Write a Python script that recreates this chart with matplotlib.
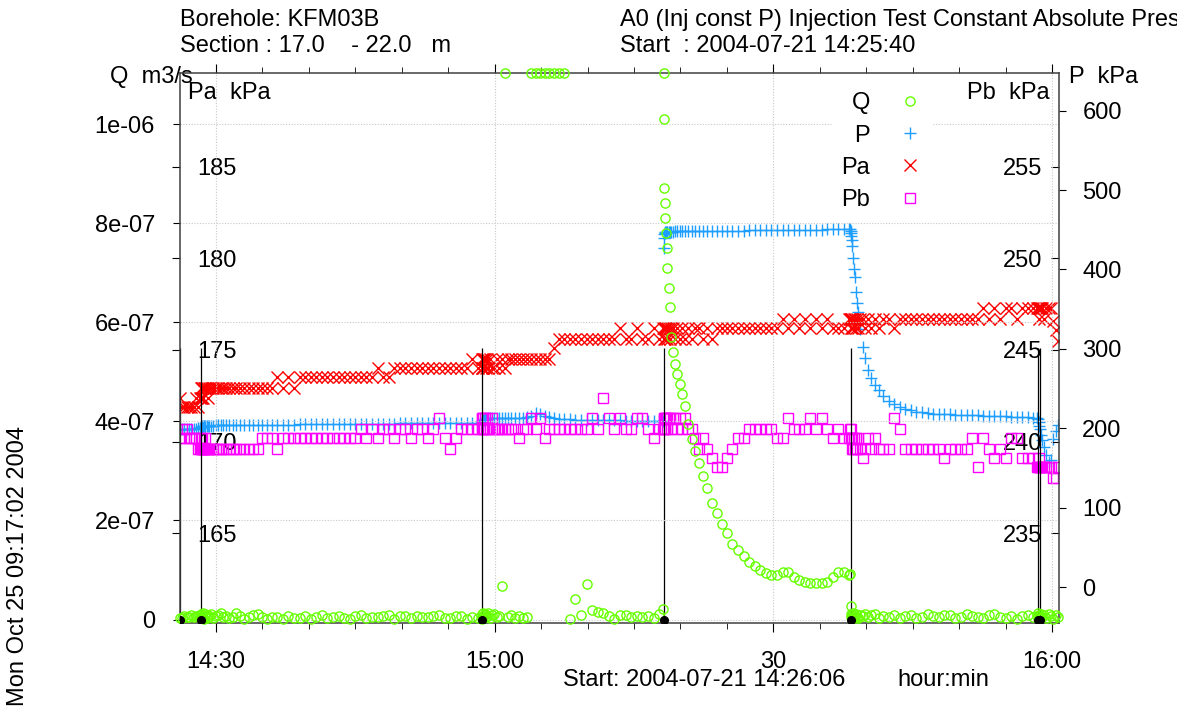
import matplotlib
matplotlib.use("Agg")
import matplotlib.pyplot as plt
from matplotlib.lines import Line2D
from matplotlib.ticker import FixedLocator, MultipleLocator
import numpy as np

plt.rcParams['font.family'] = ['Liberation Sans', 'DejaVu Sans']
plt.rcParams['font.size'] = 17

# time in minutes after 14:00 (2004-07-21)
t_min = [
    26.13, 26.35, 26.6, 26.85, 27.1, 27.35, 27.6, 27.85, 28.1, 28.3,
    28.40, 28.42, 28.45, 28.49, 28.54, 28.6, 28.68, 28.77, 28.87, 29.0,
    29.15, 29.3, 29.5, 29.7, 29.95, 30.2, 30.5, 30.8, 31.1, 31.45,
    31.8, 32.2, 32.6, 33.0, 33.5, 34.0, 34.5, 35.0, 35.5, 36.0,
    36.6, 37.2, 37.8, 38.4, 39.0, 39.6, 40.2, 40.8, 41.4, 42.0,
    42.6, 43.2, 43.8, 44.4, 45.0, 45.6, 46.2, 46.8, 47.4, 48.0,
    48.6, 49.2, 49.8, 50.4, 51.0, 51.6, 52.2, 52.8, 53.4, 54.0,
    54.6, 55.2, 55.8, 56.4, 57.0, 57.6, 58.2,
    58.64, 58.66, 58.69,
    58.73, 58.78, 58.85, 58.93, 59.03, 59.15, 59.3, 59.5, 59.7, 59.95,
    60.2, 60.5, 60.8, 61.1, 61.45, 61.8, 62.2, 62.6, 63.0, 63.45,
    63.9, 64.4, 64.9, 65.4, 65.9, 66.4, 66.9, 67.5, 68.1, 68.7,
    69.3, 69.9, 70.5, 71.1, 71.7, 72.3, 72.9, 73.5, 74.1, 74.7,
    75.3, 75.9, 76.5, 77.1, 77.7, 78.15,
    78.23, 78.25, 78.28, 78.32,
    78.37, 78.43, 78.5, 78.6, 78.72, 78.86, 79.02, 79.2, 79.4, 79.65,
    79.9, 80.2, 80.5, 80.85, 81.2, 81.6, 82.0, 82.45, 82.9, 83.4,
    83.9, 84.45, 85.0, 85.6, 86.2, 86.8, 87.4, 88.0, 88.6, 89.2,
    89.8, 90.4, 91.0, 91.6, 92.2, 92.8, 93.4, 94.0, 94.6, 95.2,
    95.8, 96.4, 97.0, 97.6, 98.1, 98.3,
    98.36, 98.38, 98.41, 98.45,
    98.5, 98.57, 98.65, 98.75, 98.87, 99.0, 99.15, 99.35, 99.6, 99.85,
    100.15, 100.5, 100.9, 101.35, 101.85, 102.4, 103.0, 103.6, 104.2, 104.8,
    105.4, 106.0, 106.6, 107.2, 107.8, 108.4, 109.0, 109.6, 110.2, 110.8,
    111.4, 112.0, 112.6, 113.2, 113.8, 114.4, 115.0, 115.6, 116.2, 116.8,
    117.4, 118.0, 118.4,
    118.5, 118.55, 118.62, 118.7, 118.8, 118.95, 119.15,
    119.4, 119.65, 119.9, 120.15, 120.4, 120.6,
]

# flow Q in units of 1e-8 m3/s (110.3 = top of the axis, off scale)
q_e8 = [
    0.4, 0.3, 0.8, 0.6, 0.5, 0.9, 0.5, 0.7, 0.8, 0.6,
    0.6, 1.2, 0.3, 1.0, 0.5, 1.4, 0.2, 0.8, 1.1, 0.4,
    0.9, 0.6, 1.2, 0.3, 0.7, 0.9, 1.3, 0.5, 0.8, 0.4,
    0.6, 1.3, 0.7, 0.2, 0.5, 1.0, 1.1, 0.6, 0.2, 0.5,
    0.6, 0.1, 0.8, 0.4, 0.3, 0.8, 0.2, 0.6, 0.9, 0.4,
    0.6, 0.8, 0.3, 0.2, 0.7, 0.9, 0.4, 0.6, 0.5, 0.8,
    0.9, 0.2, 0.7, 0.7, 0.3, 0.7, 0.6, 0.5, 0.8, 0.9,
    0.4, 0.3, 0.8, 0.7, 0.2, 0.5, 0.3,
    0.2, 1.1, 0.6,
    1.4, 0.3, 0.9, 1.2, 0.5, 0.8, 1.3, 0.4, 0.9, 1.1,
    0.6, 0.8, 6.7, 110.3, 0.6, 0.9, 0.4, 0.7, 0.3, 0.6,
    110.3, 110.3, 110.3, 110.3, 110.3, 110.3, 110.3, 110.3, 0.2, 4.2,
    1.0, 7.2, 1.9, 1.5, 1.3, 0.7, 0.1, 0.9, 0.9, 0.5,
    0.7, 0.5, 0.8, 0.4, 1.1, 2.1,
    110.3, 101.0, 87.0, 84.0,
    81.0, 78.0, 75.0, 71.0, 67.0, 63.0, 57.0, 54.0, 51.5, 49.5,
    47.5, 45.5, 43.0, 39.5, 36.5, 34.0, 31.5, 29.0, 26.5, 23.5,
    21.5, 19.2, 17.5, 15.2, 14.0, 12.8, 11.7, 10.8, 10.0, 9.4,
    8.9, 9.0, 9.5, 9.5, 8.5, 8.0, 7.6, 7.3, 7.3, 7.3,
    7.5, 8.5, 9.5, 9.5, 9.0, 9.1,
    2.7, 0.5, 1.1, 0.3,
    0.9, 1.3, 0.4, 0.8, 1.2, 0.6, 0.3, 1.0, 0.7, 1.2,
    0.5, 0.9, 1.1, 0.4, 0.8, 0.6, 1.0, 0.3, 0.7, 0.9,
    0.4, 0.6, 1.1, 0.8, 0.5, 0.9, 1.0, 0.4, 0.6, 1.2,
    0.8, 0.5, 0.3, 0.9, 1.1, 0.6, 0.4, 0.8, 0.2, 0.7,
    1.0, 0.5, 0.8,
    1.4, 0.5, 1.0, 0.3, 1.2, 0.6, 0.9,
    0.4, 1.1, 0.7, 0.2, 0.9, 0.5,
]

# absolute pressure P, kPa
p_kpa = [
    197.7, 198.5, 199.0, 198.7, 199.2, 199.0, 199.5, 199.3, 199.8, 200.0,
    201.0, 201.5, 201.8, 202.0, 202.2, 202.4, 202.5, 202.6, 202.8, 203.0,
    203.1, 203.2, 203.3, 203.4, 203.5, 203.5, 203.6, 203.7, 203.7, 203.8,
    203.8, 203.9, 204.0, 204.0, 204.1, 204.2, 204.2, 204.3, 204.4, 204.4,
    204.5, 204.6, 204.6, 204.7, 204.8, 204.8, 204.9, 205.0, 205.0, 205.1,
    205.2, 205.2, 205.3, 205.4, 205.4, 205.5, 205.6, 205.6, 205.7, 205.8,
    205.8, 205.9, 206.0, 206.0, 206.1, 206.2, 206.2, 206.3, 206.4, 206.4,
    206.5, 206.6, 206.6, 206.7, 206.8, 206.8, 206.9,
    207.0, 208.0, 208.8,
    209.5, 210.2, 210.8, 211.3, 211.7, 212.0, 212.3, 212.5, 212.6, 212.8,
    212.9, 213.0, 213.0, 213.1, 213.2, 213.2, 213.3, 213.4, 213.5, 213.6,
    216.0, 219.5, 218.0, 215.5, 214.0, 213.0, 212.0, 211.5, 211.0, 210.8,
    210.6, 210.4, 210.3, 210.2, 210.0, 209.9, 209.8, 209.8, 209.7, 209.6,
    209.6, 209.5, 209.5, 209.4, 209.4, 209.3,
    427.0, 440.0, 445.0, 446.5,
    447.0, 447.2, 447.3, 447.4, 447.5, 447.5, 447.6, 447.7, 447.8, 447.8,
    447.9, 448.0, 448.0, 448.1, 448.2, 448.3, 448.3, 448.4, 448.5, 448.6,
    448.6, 448.7, 448.8, 448.9, 449.0, 449.0, 449.1, 449.2, 449.3, 449.4,
    449.5, 449.5, 449.6, 449.7, 449.8, 449.9, 450.0, 450.1, 450.1, 450.2,
    450.3, 450.4, 450.5, 450.5, 450.6, 450.6,
    448.0, 446.0, 442.0, 437.0,
    430.0, 415.0, 400.0, 390.0, 372.0, 358.0, 346.0, 325.0, 302.0, 288.0,
    273.0, 263.0, 255.0, 248.0, 241.0, 234.5, 231.0, 227.0, 224.0, 222.5,
    221.0, 220.0, 219.5, 218.5, 218.0, 217.8, 217.5, 217.2, 217.0, 216.8,
    216.5, 216.3, 216.0, 215.8, 215.5, 215.2, 215.0, 214.6, 214.3, 214.0,
    213.6, 213.2, 213.0,
    212.0, 208.0, 203.0, 199.0, 192.0, 185.0, 176.0,
    166.0, 158.0, 160.0, 186.0, 197.0, 204.0,
]

# pressure above section Pa, kPa
pa_kpa = [
    172.4, 171.9, 171.9, 171.9, 171.9, 171.9, 171.9, 172.4, 171.9, 172.4,
    172.4, 172.9, 172.4, 172.9, 172.9, 172.4, 172.9, 172.9, 172.9, 172.9,
    172.4, 172.9, 172.9, 172.9, 172.9, 172.9, 172.9, 172.9, 172.9, 172.9,
    172.9, 172.9, 172.9, 172.9, 172.9, 172.9, 172.9, 172.9, 172.9, 172.9,
    173.5, 172.9, 173.5, 172.9, 173.5, 173.5, 173.5, 173.5, 173.5, 173.5,
    173.5, 173.5, 173.5, 173.5, 173.5, 173.5, 173.5, 173.5, 174.0, 173.5,
    173.5, 174.0, 174.0, 174.0, 174.0, 174.0, 174.0, 174.0, 174.0, 174.0,
    174.0, 174.0, 174.0, 174.0, 174.0, 174.5, 174.0,
    174.0, 174.5, 174.0,
    174.5, 174.0, 174.5, 174.5, 174.0, 174.5, 174.0, 174.5, 174.0, 174.0,
    174.5, 174.0, 174.5, 174.0, 174.5, 174.5, 174.5, 174.5, 174.5, 174.5,
    174.5, 174.5, 174.5, 174.5, 174.5, 175.1, 175.6, 175.6, 175.6, 175.6,
    175.6, 175.6, 175.6, 175.6, 175.6, 175.6, 175.6, 176.2, 175.6, 175.6,
    176.2, 175.6, 175.6, 176.2, 175.6, 176.2,
    176.2, 175.6, 176.2, 175.6,
    176.2, 176.2, 175.6, 176.2, 176.2, 175.6, 176.2, 176.2, 175.6, 176.2,
    175.6, 176.2, 175.6, 176.2, 175.6, 176.2, 176.2, 175.6, 176.2, 175.6,
    176.2, 176.2, 176.2, 176.2, 176.2, 176.2, 176.2, 176.2, 176.2, 176.2,
    176.2, 176.2, 176.7, 176.2, 176.7, 176.2, 176.7, 176.2, 176.7, 176.2,
    176.7, 176.2, 176.2, 176.2, 176.7, 176.7,
    176.7, 176.2, 176.7, 176.2,
    176.7, 176.2, 176.7, 176.7, 176.2, 176.7, 176.2, 176.7, 176.7, 176.2,
    176.7, 176.2, 176.7, 176.2, 176.7, 176.7, 176.2, 176.7, 176.7, 176.7,
    176.7, 176.7, 176.7, 176.7, 176.7, 176.7, 176.7, 176.7, 176.7, 176.7,
    176.7, 176.7, 177.3, 176.7, 177.3, 176.7, 177.3, 177.3, 176.7, 177.3,
    177.3, 177.3, 177.3,
    177.3, 177.3, 176.7, 177.3, 177.3, 177.3, 176.7,
    177.3, 177.3, 177.3, 176.6, 176.1, 175.5,
]

# pressure below section Pb, kPa
pb_kpa = [
    240.2, 240.7, 240.2, 240.7, 240.2, 240.2, 240.2, 240.2, 239.6, 239.6,
    240.2, 239.6, 239.6, 240.2, 239.6, 239.6, 239.6, 239.6, 240.2, 239.6,
    239.6, 239.6, 239.6, 239.6, 239.6, 239.6, 239.6, 239.6, 239.6, 239.6,
    239.6, 239.6, 239.6, 239.6, 239.6, 239.6, 239.6, 240.2, 240.2, 240.2,
    239.6, 240.2, 240.2, 240.2, 240.2, 240.2, 240.2, 240.2, 240.2, 240.2,
    240.2, 240.2, 240.2, 240.2, 240.2, 240.7, 240.2, 240.7, 240.2, 240.7,
    240.7, 240.2, 240.7, 240.7, 240.2, 240.7, 240.7, 240.2, 240.7, 241.3,
    240.2, 239.6, 240.2, 240.7, 240.7, 240.7, 240.7,
    241.3, 240.7, 241.3,
    240.7, 241.3, 240.7, 241.3, 240.7, 241.3, 240.7, 240.7, 241.3, 240.7,
    240.7, 240.7, 240.7, 240.7, 240.7, 240.7, 240.7, 240.2, 240.7, 240.7,
    241.3, 240.7, 241.3, 240.2, 240.7, 240.7, 240.7, 240.7, 240.7, 240.7,
    240.7, 240.7, 241.3, 240.7, 242.4, 241.3, 240.7, 241.3, 240.7, 240.7,
    241.3, 241.3, 240.7, 240.2, 240.7, 240.7,
    241.3, 240.7, 241.3, 241.3,
    240.7, 241.3, 241.3, 240.7, 241.3, 241.3, 240.7, 241.3, 241.3, 240.7,
    241.3, 240.7, 241.3, 240.7, 240.7, 240.2, 239.6, 240.2, 239.6, 239.1,
    238.6, 238.6, 239.1, 239.6, 240.2, 240.2, 240.7, 240.7, 240.7, 240.7,
    240.7, 240.2, 240.2, 241.3, 240.7, 240.7, 240.7, 241.3, 240.7, 241.3,
    240.7, 240.2, 240.7, 240.2, 240.2, 240.7,
    240.2, 240.7, 240.2, 239.6,
    240.2, 239.6, 240.2, 239.6, 240.2, 239.6, 240.2, 239.6, 239.1, 239.6,
    240.2, 239.6, 240.2, 239.6, 239.6, 239.6, 241.3, 240.7, 239.6, 239.6,
    239.6, 239.6, 239.6, 239.6, 239.6, 239.1, 239.6, 239.6, 239.6, 239.6,
    240.2, 238.6, 240.2, 239.6, 239.1, 239.6, 239.1, 240.2, 240.2, 239.1,
    239.1, 239.1, 238.6,
    238.6, 238.6, 239.1, 238.6, 238.6, 238.6, 238.6,
    238.6, 238.6, 238.6, 238.0, 238.0, 238.6,
]

# test events (minutes after 14:00), marked at Q = 0
event_t = [26.13, 28.39, 58.63, 78.22, 98.35, 118.48, 118.72]
event_q = [0.0, 0.0, 0.0, 0.0, 0.0, 0.0, 0.0]
event_top_q = 5.48e-7

x_ticks = [30, 60, 90, 120]
x_ticklabels = ['14:30', '15:00', '30', '16:00']
q_ticks = [0, 2e-7, 4e-7, 6e-7, 8e-7, 1e-6]
q_ticklabels = ['0', '2e-07', '4e-07', '6e-07', '8e-07', '1e-06']
p_ticks = [0, 100, 200, 300, 400, 500, 600]
pa_ticks = [165, 170, 175, 180, 185]
pb_ticks = [235, 240, 245, 250, 255]

assert len(t_min) == len(q_e8) == len(p_kpa) == len(pa_kpa) == len(pb_kpa)

t = np.array(t_min)
q = np.array(q_e8) * 1e-8

C_Q = '#66ff00'
C_P = '#1e9eff'
C_PA = '#ff0000'
C_PB = '#ff00ff'

MS_Q, MS_P, MS_PA, MS_PB = 6.6, 8, 8.2, 7.6

W, H = 1177, 724
fig = plt.figure(figsize=(W / 100, H / 100), dpi=100)
ax = fig.add_axes([180 / W, 1 - 623 / H, 878.7 / W, 550 / H])
ax_p = ax.twinx()
ax_pa = ax.twinx()
ax_pb = ax.twinx()

ax.set_zorder(5)
ax.patch.set_visible(False)
ax_p.set_zorder(1)
ax_pa.set_zorder(2)
ax_pb.set_zorder(3)

ax.set_xlim(26.125, 120.72)
ax.set_ylim(-7.06e-9, 1.103e-6)
ax_p.set_ylim(-45.3, 647.4)
ax_pa.set_ylim(160.1, 190.1)
ax_pb.set_ylim(230.1, 260.1)

# data
ax_p.plot(t, p_kpa, ls='none', marker='+', color=C_P, ms=MS_P, mew=1.0)
ax_pa.plot(t, pa_kpa, ls='none', marker='x', color=C_PA, ms=MS_PA, mew=1.0)
ax_pb.plot(t, pb_kpa, ls='none', marker='s', mfc='none', mec=C_PB, ms=MS_PB, mew=1.0)
ax.vlines(event_t, -7.06e-9, event_top_q, colors='k', lw=0.9, zorder=1)
ax.plot(t, q, ls='none', marker='o', mfc='none', mec=C_Q, ms=MS_Q, mew=1.0,
        clip_on=False, zorder=3)
ax.plot(event_t, event_q, ls='none', marker='o', color='k', ms=5.5, zorder=4)

# axes / ticks
ax.xaxis.set_major_locator(FixedLocator(x_ticks))
ax.set_xticklabels(x_ticklabels)
ax.xaxis.set_minor_locator(MultipleLocator(5))
ax.tick_params(axis='x', which='major', top=True, direction='out', length=6.5, pad=13.5)
ax.tick_params(axis='x', which='minor', top=True, direction='out', length=4)

ax.yaxis.set_major_locator(FixedLocator(q_ticks))
ax.set_yticklabels(q_ticklabels)
ax.tick_params(axis='y', direction='out', length=5.3, pad=12.7)

ax_p.set_yticks(p_ticks)
ax_p.set_yticklabels([str(v) for v in p_ticks])
ax_p.tick_params(axis='y', direction='out', length=5.3, pad=11.7)

ax_pa.yaxis.tick_left()
ax_pa.set_yticks(pa_ticks)
ax_pa.set_yticklabels([str(v) for v in pa_ticks], ha='left')
ax_pa.tick_params(axis='y', direction='out', length=5.8, pad=-18)

ax_pb.set_yticks(pb_ticks)
ax_pb.set_yticklabels([str(v) for v in pb_ticks], ha='right')
ax_pb.tick_params(axis='y', direction='in', length=5.5, pad=-11.9)

ax.grid(True, which='major', color='#c8c8c8', ls=(0, (1, 1.5)), lw=0.8)

for a in (ax_p, ax_pa, ax_pb):
    for s in a.spines.values():
        s.set_visible(False)
for s in ax.spines.values():
    s.set_color('#404040')
    s.set_linewidth(1.1)

# legend
handles = [
    Line2D([], [], ls='none', marker='o', mfc='none', mec=C_Q, ms=MS_Q, mew=1.0),
    Line2D([], [], ls='none', marker='+', color=C_P, ms=MS_P, mew=1.0),
    Line2D([], [], ls='none', marker='x', color=C_PA, ms=MS_PA, mew=1.0),
    Line2D([], [], ls='none', marker='s', mfc='none', mec=C_PB, ms=MS_PB, mew=1.0),
]
leg = ax.legend(handles, ['Q', 'P', 'Pa', 'Pb'], loc='upper left',
                bbox_to_anchor=(832 / W, 1 - 83 / H), bbox_transform=fig.transFigure,
                markerfirst=False, frameon=True, facecolor='white', edgecolor='none',
                framealpha=1, fancybox=False, handlelength=1.0, handletextpad=1.2,
                labelspacing=0.43, borderpad=0.4, borderaxespad=0)
leg.set_zorder(10)

# texts
fig.text(180 / W, 1 - 20 / H, 'Borehole: KFM03B', ha='left', va='center')
fig.text(180 / W, 1 - 46 / H, 'Section : 17.0    - 22.0   m', ha='left', va='center')
fig.text(620 / W, 1 - 20 / H, 'A0 (Inj const P) Injection Test Constant Absolute Pres',
         ha='left', va='center')
fig.text(620 / W, 1 - 46 / H, 'Start  : 2004-07-21 14:25:40', ha='left', va='center')
fig.text(110 / W, 1 - 77 / H, 'Q  m3/s', ha='left', va='center')
fig.text(188 / W, 1 - 93 / H, 'Pa  kPa', ha='left', va='center')
fig.text(1069 / W, 1 - 77 / H, 'P  kPa', ha='left', va='center')
fig.text(1050 / W, 1 - 93 / H, 'Pb  kPa', ha='right', va='center')
fig.text(563 / W, 1 - 680 / H, 'Start: 2004-07-21 14:26:06', ha='left', va='center')
fig.text(897 / W, 1 - 680 / H, 'hour:min', ha='left', va='center')
fig.text(18 / W, 1 - 566 / H, 'Mon Oct 25 09:17:02 2004', rotation=90,
         ha='center', va='center')

fig.savefig('out.png', dpi=100, facecolor='white')
